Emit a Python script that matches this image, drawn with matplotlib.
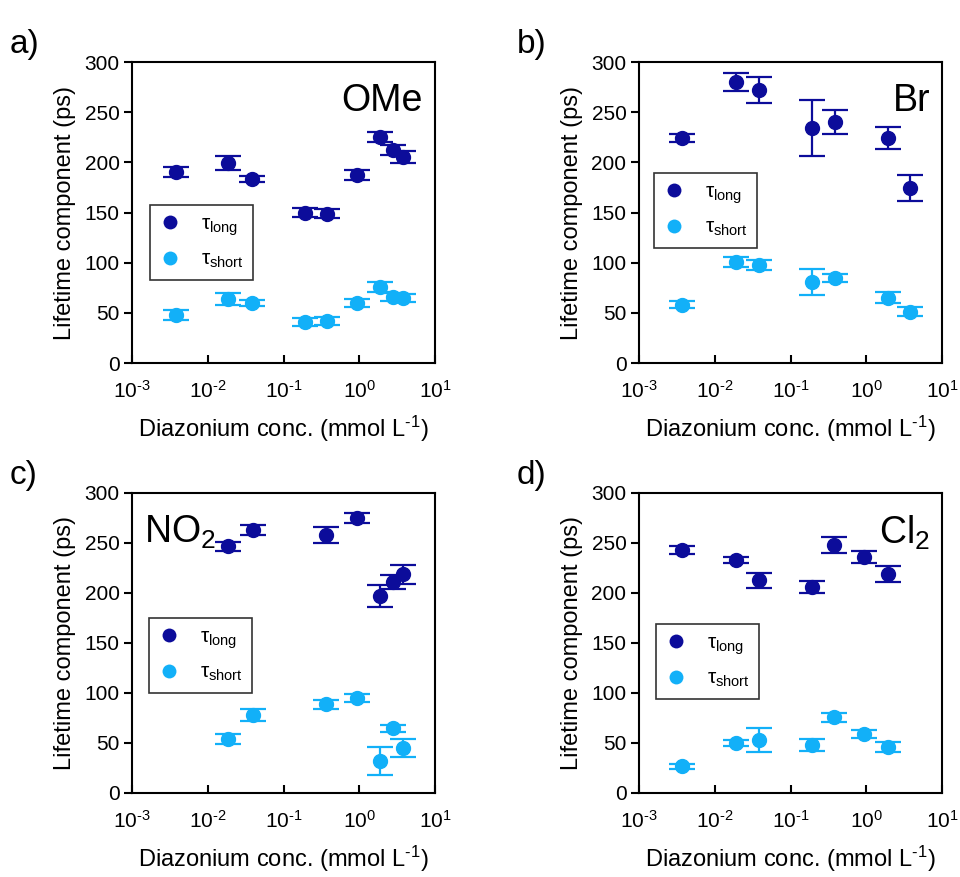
import matplotlib
matplotlib.use("Agg")
import matplotlib.pyplot as plt
from matplotlib.lines import Line2D

plt.rcParams['font.family'] = ['Liberation Sans', 'DejaVu Sans']
plt.rcParams['mathtext.fontset'] = 'custom'
plt.rcParams['mathtext.rm'] = 'Liberation Sans'
plt.rcParams['mathtext.it'] = 'Liberation Sans'

DARK = '#0c0c9a'
LIGHT = '#12b0f8'

# Panel a) OMe
a_x = [0.0038, 0.0186, 0.038, 0.19, 0.37, 0.92, 1.87, 2.8, 3.74]
a_long = [190, 199, 183, 150, 149, 187, 225, 212, 205]
a_long_err = [5, 7, 3, 4, 4, 5, 5, 5, 6]
a_short = [48, 64, 60, 41, 42, 60, 76, 66, 65]
a_short_err = [5, 6, 3, 4, 4, 4, 5, 4, 4]

# Panel b) Br
b_x = [0.0037, 0.0188, 0.038, 0.19, 0.385, 1.91, 3.8]
b_long = [224, 280, 272, 234, 240, 224, 174]
b_long_err = [4, 9, 13, 28, 12, 11, 13]
b_short = [58, 101, 98, 81, 85, 65, 51]
b_short_err = [3.5, 5, 5, 13, 4, 5.5, 4.5]

# Panel c) NO2
c_x = [0.0186, 0.040, 0.36, 0.92, 1.87, 2.76, 3.74]
c_long = [247, 263, 258, 275, 197, 211, 219]
c_long_err = [4.5, 5, 8, 5, 11, 7, 9.5]
c_short = [54, 78, 89, 95, 32, 65, 45]
c_short_err = [4.7, 6, 4.5, 4, 14, 3.5, 9]

# Panel d) Cl2
d_x = [0.0037, 0.0188, 0.038, 0.193, 0.376, 0.94, 1.91]
d_long = [243, 233, 213, 206, 248, 236, 219]
d_long_err = [3.7, 3, 7.5, 6, 8, 5.8, 8]
d_short = [27, 50, 53, 48, 76, 59, 46]
d_short_err = [2.5, 3, 11.7, 6, 4.5, 4, 4.7]

xtick_vals = [1e-3, 1e-2, 1e-1, 1e0, 1e1]
xtick_labels = ['10$^{\u20103}$', '10$^{\u20102}$', '10$^{\u20101}$', '10$^{0}$', '10$^{1}$']

panels = [
    ('a)', 'OMe', a_x, a_long, a_long_err, a_short, a_short_err, 'right'),
    ('b)', 'Br', b_x, b_long, b_long_err, b_short, b_short_err, 'right'),
    ('c)', 'NO$_2$', c_x, c_long, c_long_err, c_short, c_short_err, 'left'),
    ('d)', 'Cl$_2$', d_x, d_long, d_long_err, d_short, d_short_err, 'right'),
]

fig = plt.figure(figsize=(9.6, 8.77), dpi=100)
W, H = 960, 877
# axes pixel boxes (left, top, right, bottom)
boxes = [(132, 62, 435, 363), (639, 62, 942, 363),
         (132, 493, 435, 793), (639, 493, 942, 793)]
legend_pos = [(150, 205), (654, 173), (149, 618), (656, 624)]

for i, (lab, name, x, yl, el, ys, es, side) in enumerate(panels):
    l, t, r, b = boxes[i]
    ax = fig.add_axes([l / W, 1 - b / H, (r - l) / W, (b - t) / H])
    ekw = dict(fmt='o', ms=10, capsize=9.5, elinewidth=1.6, capthick=1.6)
    ax.errorbar(x, ys, yerr=es, color=LIGHT, **ekw)
    ax.errorbar(x, yl, yerr=el, color=DARK, **ekw)
    ax.set_xscale('log')
    ax.set_xlim(1e-3, 1e1)
    ax.set_ylim(0, 300)
    ax.set_yticks(range(0, 301, 50))
    ax.set_xticks(xtick_vals)
    ax.set_xticklabels(xtick_labels)
    ax.minorticks_off()
    ax.tick_params(axis='y', direction='out', length=6, width=1.5, labelsize=15, pad=3)
    ax.tick_params(axis='x', direction='in', length=6, width=1.5, labelsize=15, pad=12)
    for s in ax.spines.values():
        s.set_linewidth(1.5)
    ax.set_ylabel('Lifetime component (ps)', fontsize=17, labelpad=6)
    ax.set_xlabel('Diazonium conc. (mmol L$^{\u20101}$)', fontsize=17, labelpad=9)
    if side == 'right':
        ax.text(0.96, 0.93, name, transform=ax.transAxes, ha='right', va='top', fontsize=27)
    else:
        ax.text(0.04, 0.93, name, transform=ax.transAxes, ha='left', va='top', fontsize=27)
    fig.text((l - 122) / W, 1 - (t - 2) / H, lab, fontsize=24, ha='left', va='bottom')
    handles = [Line2D([], [], marker='o', ls='none', ms=10, color=DARK, mew=0),
               Line2D([], [], marker='o', ls='none', ms=10, color=LIGHT, mew=0)]
    lx, ly = legend_pos[i]
    leg = ax.legend(handles, [r'$\tau_{\mathrm{long}}$', r'$\tau_{\mathrm{short}}$'],
                    loc='upper left', bbox_to_anchor=((lx - l) / (r - l), 1 - (ly - t) / (b - t)),
                    fontsize=15, frameon=True, fancybox=False, edgecolor='black',
                    borderpad=0.45, handlelength=1.0, handletextpad=1.0, labelspacing=0.6,
                    borderaxespad=0)
    leg.get_frame().set_linewidth(1.2)

fig.savefig('out.png', dpi=100)
